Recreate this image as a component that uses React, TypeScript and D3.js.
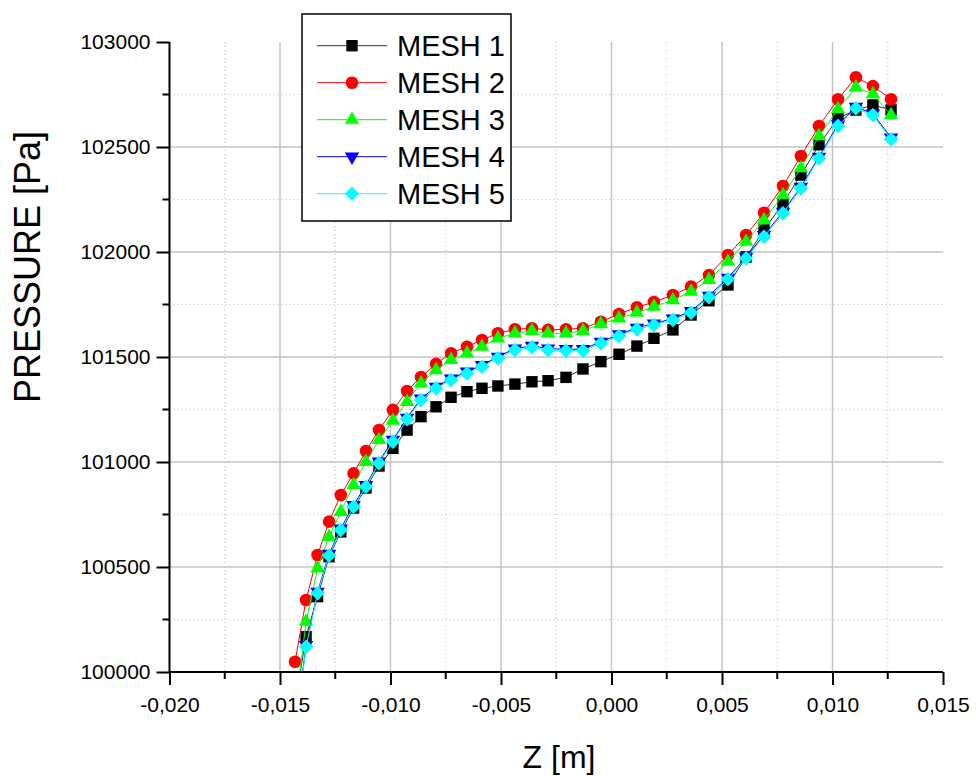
import React, { useEffect, useRef } from "react";
import * as d3 from "d3";

// Z positions of the mesh nodes [m]
const zValues = [
  -0.01432, -0.01382, -0.0133, -0.01278, -0.01225, -0.01167, -0.01111, -0.01052,
  -0.00989, -0.00925, -0.00862, -0.00794, -0.00726, -0.00654, -0.00586, -0.00514,
  -0.00437, -0.0036, -0.00287, -0.00206, -0.00129, -0.00048, 0.00034, 0.00115,
  0.00192, 0.00278, 0.0036, 0.00441, 0.00527, 0.00609, 0.0069, 0.00776,
  0.00857, 0.00939, 0.01025, 0.01106, 0.01183, 0.01265,
];

// pressure [Pa] per mesh
const mesh1 = [
  99850, 100168, 100359, 100549, 100667, 100781, 100876, 100981, 101065, 101152,
  101216, 101263, 101308, 101335, 101351, 101362, 101371, 101382, 101387, 101403,
  101443, 101478, 101513, 101552, 101589, 101629, 101700, 101768, 101843, 101976,
  102105, 102232, 102367, 102510, 102637, 102676, 102700, 102676,
];
const mesh2 = [
  100049, 100343, 100557, 100716, 100843, 100946, 101052, 101152, 101248, 101338,
  101405, 101467, 101518, 101549, 101581, 101613, 101632, 101637, 101629, 101632,
  101637, 101668, 101705, 101737, 101762, 101795, 101835, 101890, 101986, 102081,
  102187, 102314, 102457, 102600, 102727, 102832, 102790, 102727,
];
const mesh3 = [
  99810, 100240, 100494, 100644, 100763, 100890, 101001, 101105, 101197, 101287,
  101375, 101438, 101486, 101518, 101549, 101589, 101613, 101625, 101613, 101613,
  101625, 101657, 101684, 101711, 101740, 101771, 101811, 101867, 101954, 102049,
  102152, 102271, 102399, 102552, 102680, 102784, 102752, 102652,
];
const mesh4 = [
  99720, 100128, 100381, 100562, 100683, 100795, 100890, 101002, 101105, 101210,
  101302, 101358, 101397, 101430, 101461, 101501, 101540, 101553, 101540, 101537,
  101537, 101572, 101607, 101639, 101659, 101683, 101718, 101791, 101877, 101977,
  102080, 102191, 102310, 102453, 102607, 102691, 102659, 102544,
];
const mesh5 = [
  99700, 100120, 100375, 100555, 100676, 100787, 100882, 100994, 101097, 101203,
  101295, 101351, 101390, 101422, 101454, 101494, 101533, 101546, 101533, 101530,
  101530, 101565, 101600, 101632, 101652, 101676, 101711, 101784, 101870, 101970,
  102073, 102184, 102303, 102446, 102600, 102684, 102652, 102537,
];

const seriesNames = ["MESH 1", "MESH 2", "MESH 3", "MESH 4", "MESH 5"];
const xTicks = [-0.02, -0.015, -0.01, -0.005, 0, 0.005, 0.01, 0.015];
const yTicks = [100000, 100500, 101000, 101500, 102000, 102500, 103000];

const FONT = "'Liberation Sans', Arial, sans-serif";

const App = () => {
  const svgRef = useRef(null);

  useEffect(() => {
    const svg = d3.select(svgRef.current);
    svg.selectAll("*").remove();

    const x = d3.scaleLinear().domain([-0.02, 0.015]).range([169.5, 943]);
    const y = d3.scaleLinear().domain([100000, 103000]).range([672, 42]);
    const [x0, x1] = x.range();
    const [yb, yt] = y.range();

    const fmt = (v) => (Math.abs(v) < 1e-9 ? "0,000" : v.toFixed(3).replace(".", ","));

    // minor grid (dotted)
    const minorX = d3.range(-0.0175, 0.014, 0.005);
    const minorY = d3.range(100250, 103000, 500);
    const grid = svg.append("g");
    grid
      .selectAll("line.mx")
      .data(minorX)
      .join("line")
      .attr("x1", (d) => x(d))
      .attr("x2", (d) => x(d))
      .attr("y1", yt)
      .attr("y2", yb)
      .attr("stroke", "#bdbdbd")
      .attr("stroke-dasharray", "1,3");
    grid
      .selectAll("line.my")
      .data(minorY)
      .join("line")
      .attr("x1", x0)
      .attr("x2", x1)
      .attr("y1", (d) => y(d))
      .attr("y2", (d) => y(d))
      .attr("stroke", "#bdbdbd")
      .attr("stroke-dasharray", "1,3");

    // major grid (solid)
    grid
      .selectAll("line.gx")
      .data(xTicks.slice(1, -1))
      .join("line")
      .attr("x1", (d) => x(d))
      .attr("x2", (d) => x(d))
      .attr("y1", yt)
      .attr("y2", yb)
      .attr("stroke", "#c4c4c4")
      .attr("stroke-width", 1.5);
    grid
      .selectAll("line.gy")
      .data(yTicks.slice(1, -1))
      .join("line")
      .attr("x1", x0)
      .attr("x2", x1)
      .attr("y1", (d) => y(d))
      .attr("y2", (d) => y(d))
      .attr("stroke", "#c4c4c4")
      .attr("stroke-width", 1.5);

    // clip
    svg
      .append("defs")
      .append("clipPath")
      .attr("id", "plot-clip")
      .append("rect")
      .attr("x", x0)
      .attr("y", yt - 10)
      .attr("width", x1 - x0 + 10)
      .attr("height", yb - yt + 10);

    const allSeries = [mesh1, mesh2, mesh3, mesh4, mesh5];
    const colors = ["#000000", "#ff0000", "#00ff00", "#0000ff", "#00ffff"];
    const lineColors = ["#303030", "#ff0000", "#00ff00", "#0000ff", "#00ffff"];

    const square = d3.symbol(d3.symbolSquare, 130)();
    const circle = d3.symbol(d3.symbolCircle, 125)();
    const tri = d3.symbol(d3.symbolTriangle, 90)();
    const diamond = d3.symbol(d3.symbolSquare, 105)();
    const markers = [
      { d: square, rot: 0 },
      { d: circle, rot: 0 },
      { d: tri, rot: 0 },
      { d: tri, rot: 180 },
      { d: diamond, rot: 45 },
    ];

    const line = d3
      .line()
      .x((d) => x(d[0]))
      .y((d) => y(d[1]));

    const plot = svg.append("g").attr("clip-path", "url(#plot-clip)");
    allSeries.forEach((vals, i) => {
      const pts = zValues.map((z, j) => [z, vals[j]]);
      const g = plot.append("g");
      g.append("path")
        .datum(pts)
        .attr("fill", "none")
        .attr("stroke", lineColors[i])
        .attr("stroke-width", 1)
        .attr("d", line);
      g.selectAll("path.m")
        .data(pts)
        .join("path")
        .attr("class", "m")
        .attr("d", markers[i].d)
        .attr("fill", colors[i])
        .attr(
          "transform",
          (d) => `translate(${x(d[0])},${y(d[1])}) rotate(${markers[i].rot})`
        );
    });

    // axes
    const xAxis = svg
      .append("g")
      .attr("transform", `translate(0,${yb})`)
      .call(d3.axisBottom(x).tickValues(xTicks).tickSize(13).tickFormat(fmt).tickSizeOuter(0));
    xAxis.select(".domain").attr("stroke-width", 2).attr("d", `M${x0},0H${x1}`);
    xAxis.selectAll(".tick line").attr("stroke-width", 2);
    xAxis
      .selectAll(".tick text")
      .attr("font-family", FONT)
      .attr("font-size", 21)
      .attr("fill", "#000")
      .attr("y", 40)
      .attr("dy", 0);
    svg
      .append("g")
      .selectAll("line")
      .data(minorX)
      .join("line")
      .attr("x1", (d) => x(d))
      .attr("x2", (d) => x(d))
      .attr("y1", yb)
      .attr("y2", yb + 7)
      .attr("stroke", "#000")
      .attr("stroke-width", 2);

    const yAxis = svg
      .append("g")
      .attr("transform", `translate(${x0},0)`)
      .call(d3.axisLeft(y).tickValues(yTicks).tickSize(13).tickFormat(d3.format("d")).tickSizeOuter(0));
    yAxis.select(".domain").attr("stroke-width", 2).attr("d", `M0,${yb}V${yt}`);
    yAxis.selectAll(".tick line").attr("stroke-width", 2);
    yAxis
      .selectAll(".tick text")
      .attr("font-family", FONT)
      .attr("font-size", 21)
      .attr("fill", "#000")
      .attr("x", -19);
    svg
      .append("g")
      .selectAll("line")
      .data(minorY)
      .join("line")
      .attr("x1", x0 - 7)
      .attr("x2", x0)
      .attr("y1", (d) => y(d))
      .attr("y2", (d) => y(d))
      .attr("stroke", "#000")
      .attr("stroke-width", 2);

    // axis titles
    svg
      .append("text")
      .attr("x", 559)
      .attr("y", 768)
      .attr("text-anchor", "middle")
      .attr("font-family", FONT)
      .attr("font-size", 32)
      .text("Z [m]");
    svg
      .append("text")
      .attr("transform", "translate(40,267) rotate(-90)")
      .attr("text-anchor", "middle")
      .attr("font-family", FONT)
      .attr("font-size", 36)
      .text("PRESSURE [Pa]");

    // legend
    const legend = svg.append("g");
    legend
      .append("rect")
      .attr("x", 302)
      .attr("y", 14)
      .attr("width", 209)
      .attr("height", 207)
      .attr("fill", "#fff")
      .attr("stroke", "#000")
      .attr("stroke-width", 1.5);
    seriesNames.forEach((name, i) => {
      const cy = 45.7 + i * 37;
      legend
        .append("line")
        .attr("x1", 317)
        .attr("x2", 387)
        .attr("y1", cy)
        .attr("y2", cy)
        .attr("stroke", lineColors[i])
        .attr("stroke-width", 1);
      legend
        .append("path")
        .attr("d", markers[i].d)
        .attr("fill", colors[i])
        .attr("transform", `translate(352,${cy}) rotate(${markers[i].rot})`);
      legend
        .append("text")
        .attr("x", 397)
        .attr("y", cy + 10.5)
        .attr("font-family", FONT)
        .attr("font-size", 29)
        .attr("fill", "#000")
        .text(name);
    });
  }, []);

  return (
    <div style={{ position: "absolute", left: 0, top: 0 }}>
      <svg ref={svgRef} width={976} height={776} style={{ display: "block", background: "#fff" }}></svg>
    </div>
  );
};

export default App;
